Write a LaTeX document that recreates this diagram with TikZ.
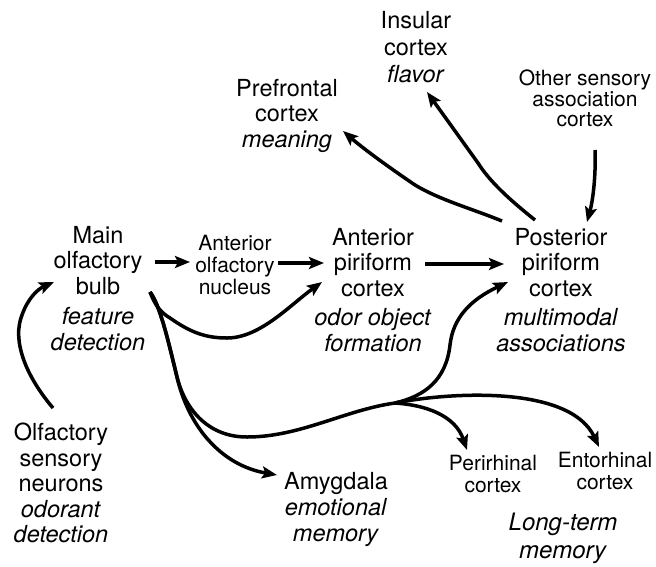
\documentclass[tikz,border=0pt]{standalone}
\usepackage{fontspec}
\setmainfont{TeX Gyre Heros}
\usetikzlibrary{arrows.meta}
\begin{document}
\begin{tikzpicture}[x=1pt,y=-1pt,
  big/.style={align=center,inner sep=0pt,anchor=north,font=\fontsize{23.5}{25.5}\selectfont},
  small/.style={align=center,inner sep=0pt,anchor=north,font=\fontsize{21}{22}\selectfont},
  conn/.style={line width=3.5pt,-{Stealth[length=15pt,width=12pt,inset=3pt]}},
  plain/.style={line width=3.5pt}]
\useasboundingbox (0,0) rectangle (656,566);
% texts
\node[big] (bulb) at (98,226) {Main\\olfactory\\bulb\\[5pt]\textit{feature}\\\textit{detection}};
\node[small] (aon) at (235,235) {Anterior\\olfactory\\nucleus};
\node[big] (apc) at (373,228) {Anterior\\piriform\\cortex\\[4pt]\textit{odor object}\\\textit{formation}};
\node[big] (ppc) at (561,228) {Posterior\\piriform\\cortex\\[4pt]\textit{multimodal}\\\textit{associations}};
\node[big] (osn) at (61,423) {Olfactory\\sensory\\neurons\\\textit{odorant}\\\textit{detection}};
\node[big,font=\fontsize{23.5}{26}\selectfont] (amy) at (336,472) {Amygdala\\\textit{emotional}\\\textit{memory}};
\node[big] (pfc) at (287,79) {Prefrontal\\cortex\\\textit{meaning}};
\node[big,font=\fontsize{23.5}{27}\selectfont] (ins) at (416,11) {Insular\\cortex\\\textit{flavor}};
\node[small,font=\fontsize{21}{20.5}\selectfont] (oth) at (585,70) {Other sensory\\association\\cortex};
\node[small] (prh) at (493,455) {Perirhinal\\cortex};
\node[small] (ent) at (605,452) {Entorhinal\\cortex};
\node[big,font=\fontsize{24}{28}\selectfont] (ltm) at (563,513) {\textit{Long-term}\\\textit{memory}};
% connector end points
\coordinate (o1) at (53,408);
\coordinate (b1) at (54,282);
\coordinate (b2) at (155,262);
\coordinate (aonIn) at (190,262);
\coordinate (aonOut) at (278,263);
\coordinate (apIn) at (324,263);
\coordinate (apOut) at (425,264);
\coordinate (ppIn) at (504,264);
\coordinate (b3) at (150,292);
\coordinate (apIn2) at (322,282);
\coordinate (amyIn) at (277,475);
\coordinate (j) at (395,403);
\coordinate (ppIn2) at (508,282);
\coordinate (prhIn) at (467,450);
\coordinate (entIn) at (599,447);
\coordinate (pp1) at (502,221);
\coordinate (pfcIn) at (343,131);
\coordinate (pp2) at (535,220);
\coordinate (insIn) at (427,92);
\coordinate (oth1) at (595,150);
\coordinate (ppIn3) at (587,222);
% connectors
\draw[conn] (o1) .. controls (25,375) and (12,340) .. (22,315) .. controls (28,298) and (38,289) .. (b1);
\draw[conn] (b2) -- (aonIn);
\draw[conn] (aonOut) -- (apIn);
\draw[conn] (apOut) -- (ppIn);
\draw[conn] (b3) .. controls (155,305) and (160,312) .. (170,318) .. controls (190,332) and (205,338) .. (227,338) .. controls (260,338) and (290,305) .. (apIn2);
\draw[conn] (b3) .. controls (160,305) and (168,340) .. (177,377) .. controls (188,425) and (220,465) .. (amyIn);
\draw[plain] (b3) .. controls (160,305) and (168,340) .. (177,377) .. controls (186,412) and (210,437) .. (247,437) .. controls (300,437) and (345,410) .. (j);
\draw[conn] (j) .. controls (425,396) and (446,380) .. (450,345) .. controls (453,318) and (470,300) .. (ppIn2);
\draw[conn] (j) .. controls (425,405) and (455,415) .. (prhIn);
\draw[conn] (j) .. controls (450,392) and (570,385) .. (entIn);
\draw[conn] (pp1) .. controls (470,208) and (440,200) .. (415,185) .. controls (390,168) and (365,150) .. (pfcIn);
\draw[conn] (pp2) .. controls (510,200) and (490,182) .. (478,163) -- (insIn);
\draw[conn] (oth1) .. controls (596,175) and (593,200) .. (ppIn3);
\end{tikzpicture}
\end{document}
